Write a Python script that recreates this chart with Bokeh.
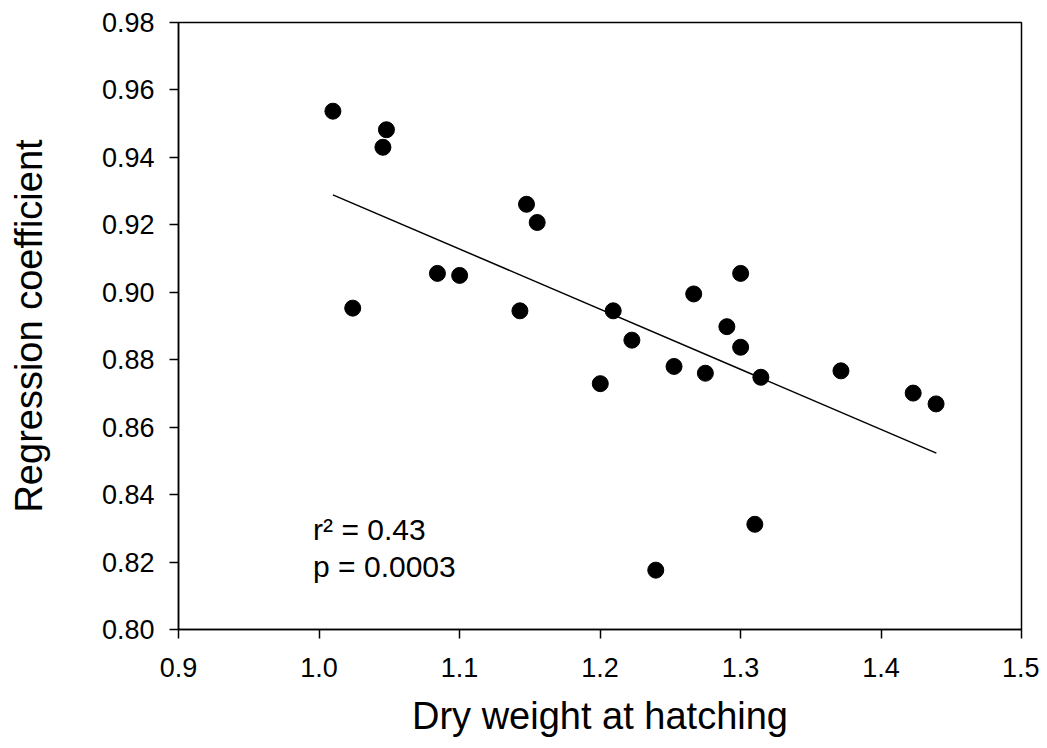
from bokeh.plotting import figure
from bokeh.models import FixedTicker, ColumnDataSource
from bokeh.core.properties import value
from bokeh.embed import file_html
from bokeh.resources import INLINE

# Data
dry_weight = [1.0099, 1.0480, 1.0455, 1.0240, 1.0843, 1.1001, 1.1477, 1.1553,
              1.1430, 1.2094, 1.2227, 1.2002, 1.2527, 1.2750, 1.2667, 1.3001,
              1.2903, 1.3001, 1.3145, 1.3715, 1.4229, 1.4392, 1.2397, 1.3102]
reg_coef = [0.9537, 0.9482, 0.9430, 0.8953, 0.9056, 0.9050, 0.9261, 0.9207,
            0.8945, 0.8945, 0.8858, 0.8729, 0.8780, 0.8760, 0.8995, 0.9056,
            0.8898, 0.8837, 0.8748, 0.8767, 0.8701, 0.8669, 0.8176, 0.8312]

fit_x = [1.0099, 1.4394]
fit_y = [0.9289, 0.8523]

x_ticks = [0.9, 1.0, 1.1, 1.2, 1.3, 1.4, 1.5]
x_tick_labels = ["0.9", "1.0", "1.1", "1.2", "1.3", "1.4", "1.5"]
y_ticks = [0.80, 0.82, 0.84, 0.86, 0.88, 0.90, 0.92, 0.94, 0.96, 0.98]
y_tick_labels = ["0.80", "0.82", "0.84", "0.86", "0.88", "0.90", "0.92", "0.94", "0.96", "0.98"]

stats_text = ["r\u00b2 = 0.43", "p = 0.0003"]
stats_x = [0.9958, 0.9958]
stats_y = [0.8296, 0.8187]

FONT = "Liberation Sans"

p = figure(width=1039, height=740, x_range=(0.9, 1.5), y_range=(0.80, 0.98),
           output_backend="svg", toolbar_location=None,
           min_border_left=178, min_border_right=18, min_border_top=22, min_border_bottom=111)

p.xgrid.visible = False
p.ygrid.visible = False
p.background_fill_color = "white"
p.border_fill_color = "white"
p.outline_line_color = "black"
p.outline_line_width = 1.5

p.line(fit_x, fit_y, line_color="black", line_width=1.5)
p.scatter(dry_weight, reg_coef, size=16, marker="circle", fill_color="black", line_color="black")

src = ColumnDataSource(dict(x=stats_x, y=stats_y, t=stats_text))
p.text("x", "y", text="t", source=src, text_font=value(FONT), text_font_size="30px",
       text_color="black", text_baseline="alphabetic", text_align="left")

for ax in (p.xaxis[0], p.yaxis[0]):
    ax.axis_line_color = "black"
    ax.axis_line_width = 1.5
    ax.major_tick_line_color = "black"
    ax.major_tick_line_width = 1.5
    ax.major_tick_out = 9
    ax.major_tick_in = 0
    ax.minor_tick_line_color = None
    ax.major_label_text_font = FONT
    ax.major_label_text_font_size = "27px"
    ax.major_label_text_color = "black"
    ax.axis_label_text_font = FONT
    ax.axis_label_text_font_size = "38px"
    ax.axis_label_text_font_style = "normal"
    ax.axis_label_text_color = "black"

p.xaxis.ticker = FixedTicker(ticks=x_ticks)
p.xaxis.major_label_overrides = {t: l for t, l in zip(x_ticks, x_tick_labels)}
p.yaxis.ticker = FixedTicker(ticks=y_ticks)
p.yaxis.major_label_overrides = {t: l for t, l in zip(y_ticks, y_tick_labels)}
p.xaxis.major_label_standoff = 19
p.yaxis.major_label_standoff = 15
p.xaxis.axis_label = "Dry weight at hatching"
p.yaxis.axis_label = "Regression coefficient"
p.xaxis.axis_label_standoff = 15
p.yaxis.axis_label_standoff = 49

open("out.html", "w").write(file_html(p, INLINE))
